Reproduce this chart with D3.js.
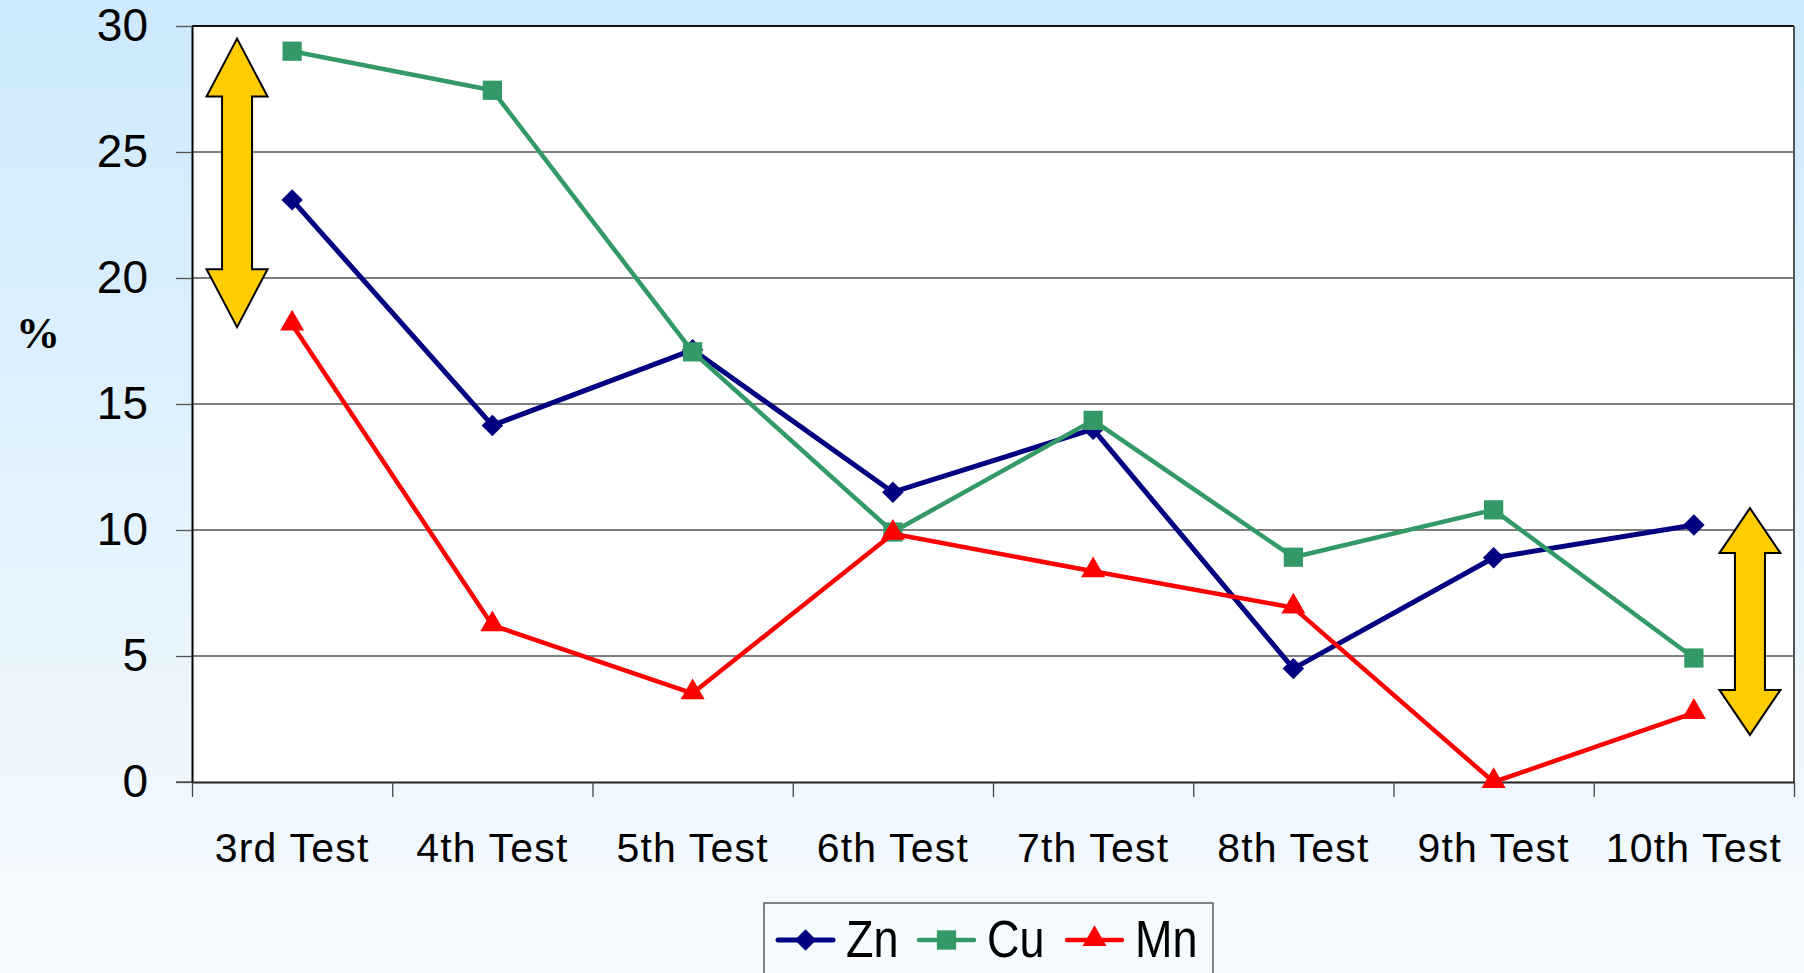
<!DOCTYPE html>
<html>
<head>
<meta charset="utf-8">
<script src="https://cdn.jsdelivr.net/npm/d3@7"></script>
<style>
html, body { margin: 0; padding: 0; }
body { width: 1804px; height: 973px; overflow: hidden; }
svg text { font-family: "Liberation Sans", Arial, sans-serif; fill: #000; }
</style>
</head>
<body>
<div id="container"></div>
<script>
var categories = ['3rd Test', '4th Test', '5th Test', '6th Test', '7th Test', '8th Test', '9th Test', '10th Test'];
var znValues = [23.1, 14.15, 17.15, 11.5, 14.0, 4.5, 8.9, 10.2];
var cuValues = [29.0, 27.45, 17.07, 9.92, 14.35, 8.92, 10.8, 4.92];
var mnValues = [18.15, 6.22, 3.52, 9.85, 8.36, 6.92, 0.0, 2.74];
var yTicks = [0, 5, 10, 15, 20, 25, 30];
var seriesNames = ['Zn', 'Cu', 'Mn'];
var seriesColors = ['#000080', '#339966', '#FF0000'];
var seriesMarkers = ['diamond', 'square', 'triangle'];
// double arrows: [band index, position inside band, top value, bottom value, head length]
var arrows = [[0, 0.225, 29.5, 18.05, 58], [7, 0.78, 10.87, 1.87, 45]];

var width = 1804, height = 973;
var plotLeft = 192, plotRight = 1794, plotTop = 26, plotBottom = 782;

var svg = d3.select('#container')
    .append('svg')
    .attr('width', width)
    .attr('height', height);

var grad = svg.append('defs').append('linearGradient')
    .attr('id', 'bg')
    .attr('x1', 0).attr('y1', 0).attr('x2', 0).attr('y2', 1);
grad.append('stop').attr('offset', '0%').attr('stop-color', '#CDE9FD');
grad.append('stop').attr('offset', '100%').attr('stop-color', '#F7FBFE');

svg.append('rect')
    .attr('width', width)
    .attr('height', height)
    .attr('fill', 'url(#bg)');

var x = d3.scaleBand().domain(categories).range([plotLeft, plotRight]).padding(0);
var y = d3.scaleLinear().domain([0, 30]).range([plotBottom, plotTop]);
function cx(c){ return x(c) + x.bandwidth()/2; }

// plot area
svg.append('rect')
    .attr('x', plotLeft)
    .attr('y', plotTop)
    .attr('width', plotRight-plotLeft)
    .attr('height', plotBottom-plotTop)
    .attr('fill', '#fff');

// gridlines
svg.append('g').selectAll('line')
    .data(yTicks.filter(function(t){ return t > 0 && t < 30; }))
    .enter().append('line')
    .attr('x1', plotLeft).attr('x2', plotRight)
    .attr('y1', function(d){ return y(d); })
    .attr('y2', function(d){ return y(d); })
    .attr('stroke', '#555')
    .attr('stroke-width', 1.3);

// plot frame top and right
svg.append('line').attr('x1', plotLeft).attr('x2', plotRight).attr('y1', plotTop).attr('y2', plotTop)
    .attr('stroke', '#111').attr('stroke-width', 2);
svg.append('line').attr('x1', plotRight).attr('x2', plotRight).attr('y1', plotTop).attr('y2', plotBottom)
    .attr('stroke', '#555').attr('stroke-width', 2);

// y axis
var yAxis = svg.append('g')
    .attr('transform', 'translate(' + plotLeft + ',0)')
    .call(d3.axisLeft(y).tickValues(yTicks).tickSize(16).tickPadding(28).tickSizeOuter(0));
yAxis.select('.domain').attr('stroke', '#000').attr('stroke-width', 2);
yAxis.selectAll('.tick line').attr('stroke', '#555').attr('stroke-width', 1.3);
yAxis.selectAll('.tick text')
    .attr('font-size', 46)
    .attr('font-family', '"Liberation Sans", Arial, sans-serif')
    .attr('fill', '#000');

// x axis
var xEdges = d3.scaleLinear().domain([0, categories.length]).range([plotLeft, plotRight]);
var xAxis = svg.append('g')
    .attr('transform', 'translate(0,' + plotBottom + ')')
    .call(d3.axisBottom(xEdges).ticks(categories.length).tickSize(15).tickSizeOuter(0).tickFormat(''));
xAxis.select('.domain').attr('stroke', '#222').attr('stroke-width', 2);
xAxis.selectAll('.tick line').attr('stroke', '#444').attr('stroke-width', 1.3);
svg.append('line').attr('x1', plotLeft-16).attr('x2', plotLeft).attr('y1', plotBottom).attr('y2', plotBottom)
    .attr('stroke', '#444').attr('stroke-width', 1.3);

svg.append('g').selectAll('text')
    .data(categories)
    .enter().append('text')
    .attr('x', function(d){ return cx(d); })
    .attr('y', 862)
    .attr('text-anchor', 'middle')
    .attr('font-size', 41)
    .attr('letter-spacing', 1.2)
    .text(function(d){ return d; });

// % label
svg.append('text')
    .attr('x', 16)
    .attr('y', 348)
    .attr('font-weight', 'bold')
    .attr('font-size', 44)
    .style('font-family', '"Liberation Serif", "Times New Roman", serif')
    .text('%');

// arrows
function arrowPath(xc, y1, y2, head){
    var hw = 30.5, sw = 15;
    return 'M' + xc + ',' + y1 +
        'L' + (xc+hw) + ',' + (y1+head) +
        'L' + (xc+sw) + ',' + (y1+head) +
        'L' + (xc+sw) + ',' + (y2-head) +
        'L' + (xc+hw) + ',' + (y2-head) +
        'L' + xc + ',' + y2 +
        'L' + (xc-hw) + ',' + (y2-head) +
        'L' + (xc-sw) + ',' + (y2-head) +
        'L' + (xc-sw) + ',' + (y1+head) +
        'L' + (xc-hw) + ',' + (y1+head) + 'Z';
}
svg.append('g').selectAll('path')
    .data(arrows)
    .enter().append('path')
    .attr('d', function(a){
        var xc = x(categories[a[0]]) + x.bandwidth()*a[1];
        return arrowPath(xc, y(a[2]), y(a[3]), a[4]);
    })
    .attr('fill', '#FFCC00')
    .attr('stroke', '#000')
    .attr('stroke-width', 2)
    .attr('stroke-linejoin', 'miter');

// series
var series = [znValues, cuValues, mnValues];
var line = d3.line()
    .x(function(d, i){ return cx(categories[i]); })
    .y(function(d){ return y(d); });

function markerPath(kind){
    if(kind == 'diamond') return d3.symbol().type(d3.symbolSquare).size(230)();
    if(kind == 'square') return d3.symbol().type(d3.symbolSquare).size(370)();
    return d3.symbol().type(d3.symbolTriangle).size(250)();
}
function markerTransform(kind, px, py){
    if(kind == 'diamond') return 'translate(' + px + ',' + py + ') rotate(45)';
    if(kind == 'triangle') return 'translate(' + px + ',' + (py-1) + ')';
    return 'translate(' + px + ',' + py + ')';
}
var lineWidths = [5, 4.5, 4.5];

for(var s = 0; s < series.length; s++){
    var g = svg.append('g');
    g.append('path')
        .attr('d', line(series[s]))
        .attr('fill', 'none')
        .attr('stroke', seriesColors[s])
        .attr('stroke-width', lineWidths[s])
        .attr('stroke-linejoin', 'round');
    g.selectAll('path.m')
        .data(series[s])
        .enter().append('path')
        .attr('class', 'm')
        .attr('d', markerPath(seriesMarkers[s]))
        .attr('transform', function(d, i){ return markerTransform(seriesMarkers[s], cx(categories[i]), y(d)); })
        .attr('fill', seriesColors[s]);
}

// legend
var legend = svg.append('g');
legend.append('rect')
    .attr('x', 764)
    .attr('y', 903)
    .attr('width', 449)
    .attr('height', 90)
    .attr('fill', 'none')
    .attr('stroke', '#444')
    .attr('stroke-width', 1.3);
var legendX = [778, 919, 1067];
for(var k = 0; k < seriesNames.length; k++){
    var lx = legendX[k];
    legend.append('line')
        .attr('x1', lx).attr('x2', lx+55)
        .attr('y1', 940).attr('y2', 940)
        .attr('stroke', seriesColors[k])
        .attr('stroke-width', lineWidths[k])
        .attr('stroke-linecap', 'round');
    legend.append('path')
        .attr('d', markerPath(seriesMarkers[k]))
        .attr('transform', markerTransform(seriesMarkers[k], lx+27.5, 940))
        .attr('fill', seriesColors[k]);
    legend.append('text')
        .attr('transform', 'translate(' + (lx+68) + ',957) scale(1,1.15)')
        .attr('font-size', 45)
        .text(seriesNames[k]);
}
</script>
</body>
</html>
